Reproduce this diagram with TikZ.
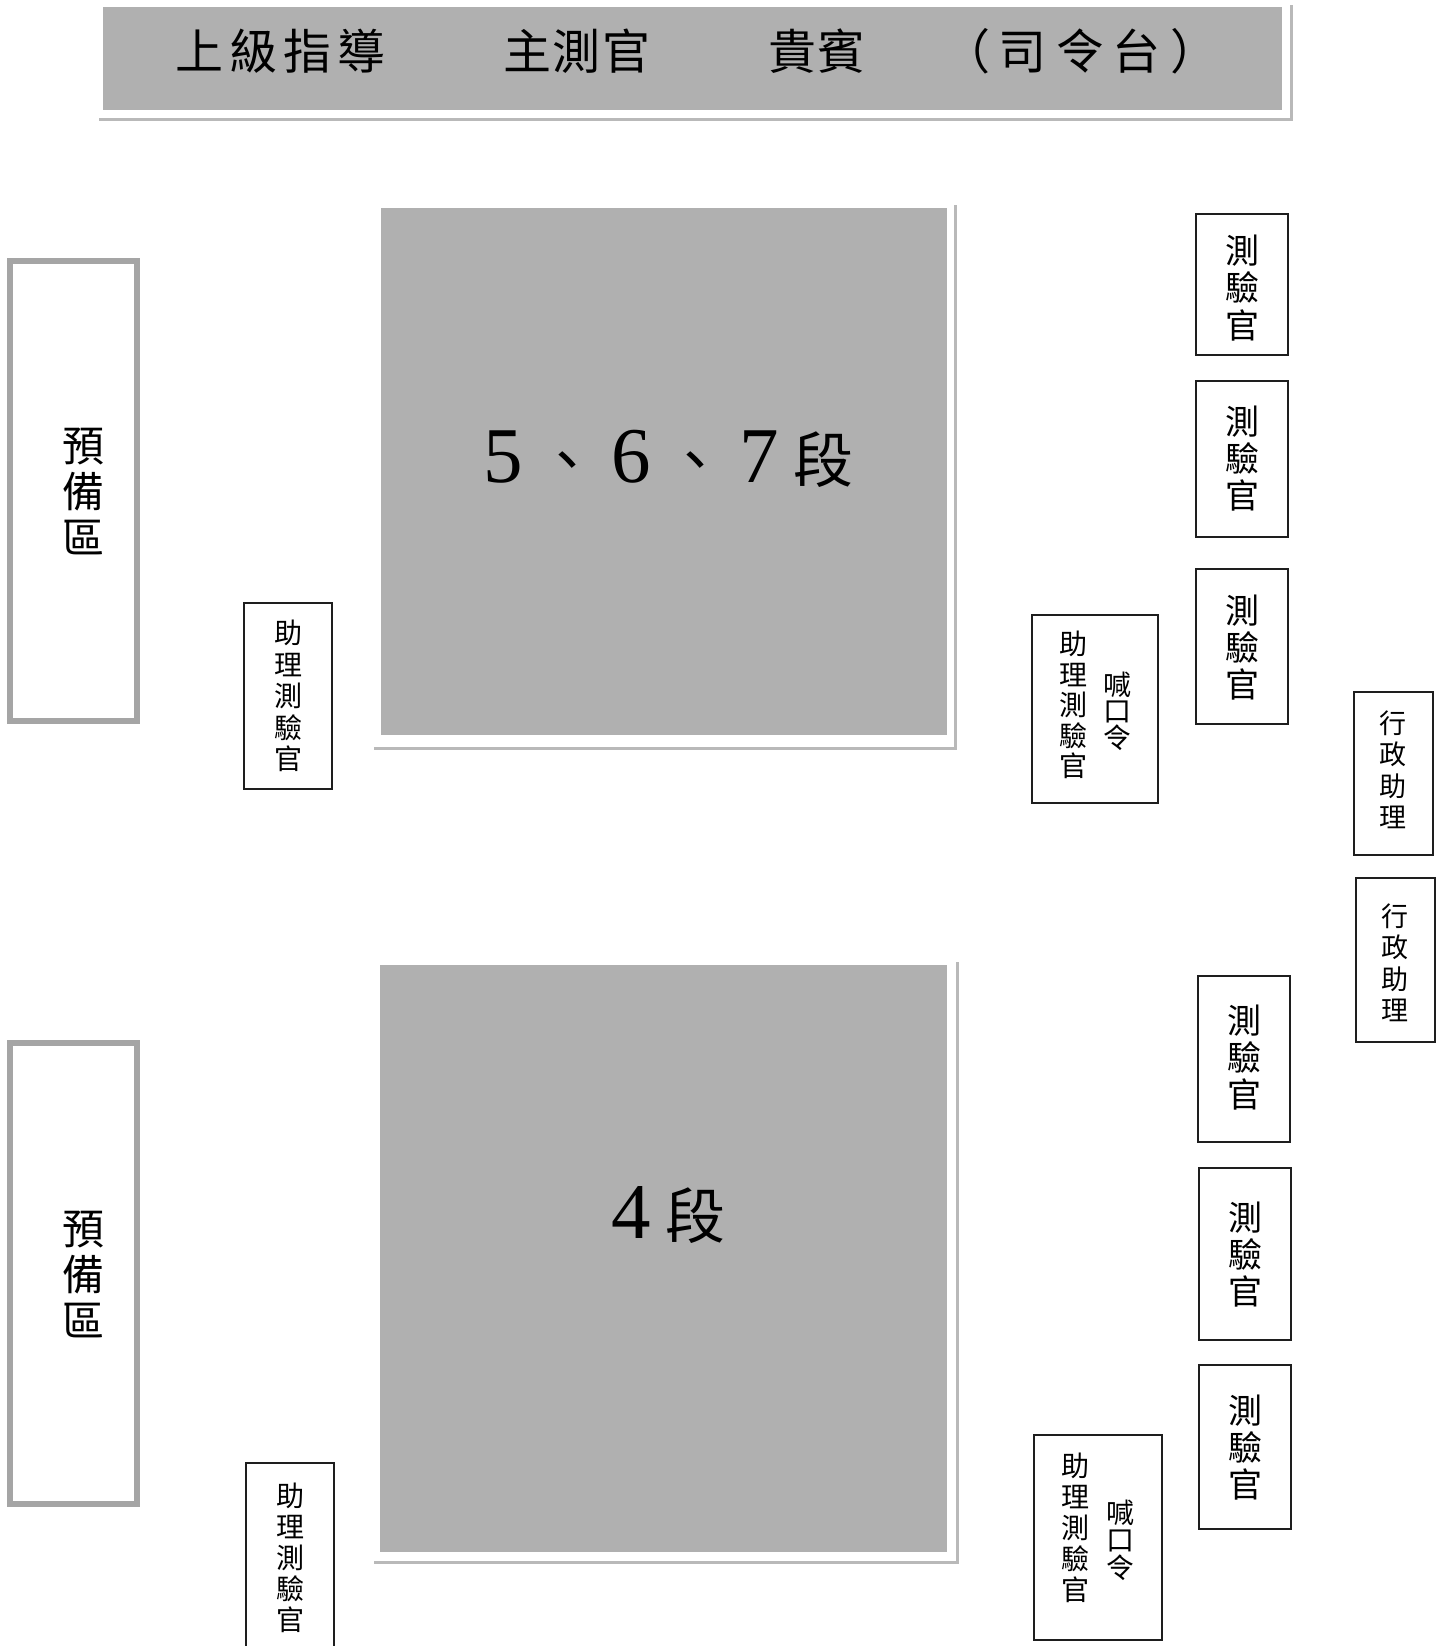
\documentclass[tikz,border=0pt]{standalone}
\usepackage{fontspec}
\newfontfamily\cjk{Noto Sans CJK TC}
\newfontfamily\digf{Liberation Serif}
\definecolor{fieldgray}{RGB}{176,176,176}
\definecolor{framegray}{RGB}{185,185,185}
\definecolor{resgray}{RGB}{165,165,165}
\definecolor{boxline}{RGB}{30,30,30}
\newcommand\secdig[1]{\makebox[64pt]{\digf\fontsize{79}{79}\selectfont #1}}
\newcommand\seckan[1]{\makebox[64pt]{\cjk\fontsize{60}{60}\selectfont #1}}
% name, x1, y1, x2, y2, style
\newcommand\rectnode[6]{\node[#6, minimum width={#4-#2}, minimum height={#5-#3}] (#1) at ({(#2+#4)/2},{(#3+#5)/2}) {};}
\begin{document}
\begin{tikzpicture}[x=1pt,y=-1pt,
  field/.style={fill=fieldgray, draw=none, inner sep=0pt, outer sep=0pt},
  frameline/.style={draw=framegray, line width=3pt},
  resbox/.style={draw=resgray, line width=6pt, inner sep=0pt, fill=white},
  tbox/.style={draw=boxline, line width=1.6pt, inner sep=0pt, fill=white},
  kfont/.style 2 args={font={\cjk\fontsize{#1}{#2}\selectfont}, align=center, inner sep=0pt},
]
\fill[white] (0,0) rectangle (1443,1646);
\useasboundingbox (0,0) rectangle (1443,1646);

% banner
\rectnode{banner}{103}{7}{1282}{110}{field}
\draw[frameline] (99,119) -- (1291,119) -- (1291,5);
\node[kfont={48}{48}, anchor=base] (b1) at (280,70) {上\hspace{6pt}級\hspace{6pt}指\hspace{6pt}導};
\node[kfont={48}{48}, anchor=base] (b2) at (577,70) {主\hspace{2pt}測\hspace{2pt}官};
\node[kfont={48}{48}, anchor=base] (b3) at (817,70) {貴\hspace{2pt}賓};
\node[kfont={48}{48}, anchor=base] (b4) at (1080,70) {（\hspace{9pt}司\hspace{9pt}令\hspace{9pt}台\hspace{9pt}）};

% fields
\rectnode{fieldA}{381}{208}{947}{735}{field}
\draw[frameline] (374,748) -- (955,748) -- (955,205);
\node[inner sep=0pt, anchor=base] (secA) at (663,482) {\secdig{5}\seckan{、}\secdig{6}\seckan{、}\secdig{7}\seckan{段}};

\rectnode{fieldB}{380}{965}{947}{1552}{field}
\draw[frameline] (374,1562) -- (957,1562) -- (957,962);
\node[inner sep=0pt, anchor=base] (secB) at (663.5,1238) {\secdig{4}\seckan{段}};

% reserve areas
\rectnode{resA}{10}{261}{137}{721}{resbox}
\node[kfont={42}{46}] (resAt) at (83,491) {預\\備\\區};
\rectnode{resB}{10}{1043}{137}{1504}{resbox}
\node[kfont={42}{46}] (resBt) at (83,1274) {預\\備\\區};

% assistant examiners left
\rectnode{asA}{244}{603}{332}{789}{tbox}
\node[kfont={28}{31.5}] (asAt) at (288,696) {助\\理\\測\\驗\\官};
\rectnode{asB}{246}{1463}{334}{1670}{tbox}
\node[kfont={28}{31}] (asBt) at (290,1558) {助\\理\\測\\驗\\官};

% assistant examiner + command, right
\rectnode{cmA}{1032}{615}{1158}{803}{tbox}
\node[kfont={28}{30.5}] (cmA1) at (1073,705) {助\\理\\測\\驗\\官};
\node[kfont={28}{26.5}] (cmA2) at (1117,711) {喊\\口\\令};
\rectnode{cmB}{1034}{1435}{1162}{1640}{tbox}
\node[kfont={28}{31}] (cmB1) at (1075,1528) {助\\理\\測\\驗\\官};
\node[kfont={28}{27.5}] (cmB2) at (1120,1540) {喊\\口\\令};

% examiners
\rectnode{ex1}{1196}{214}{1288}{355}{tbox}
\node[kfont={34}{37.5}] (ex1t) at (1242,288) {測\\驗\\官};
\rectnode{ex2}{1196}{381}{1288}{537}{tbox}
\node[kfont={34}{37}] (ex2t) at (1242,459) {測\\驗\\官};
\rectnode{ex3}{1196}{569}{1288}{724}{tbox}
\node[kfont={34}{37}] (ex3t) at (1242,648) {測\\驗\\官};
\rectnode{ex4}{1198}{976}{1290}{1142}{tbox}
\node[kfont={34}{37}] (ex4t) at (1244,1058) {測\\驗\\官};
\rectnode{ex5}{1199}{1168}{1291}{1340}{tbox}
\node[kfont={34}{37}] (ex5t) at (1245,1255) {測\\驗\\官};
\rectnode{ex6}{1199}{1365}{1291}{1529}{tbox}
\node[kfont={34}{37}] (ex6t) at (1245,1448) {測\\驗\\官};

% administrative assistants
\rectnode{ad1}{1354}{692}{1433}{855}{tbox}
\node[kfont={27}{31.5}] (ad1t) at (1393,770) {行\\政\\助\\理};
\rectnode{ad2}{1356}{878}{1435}{1042}{tbox}
\node[kfont={27}{31.5}] (ad2t) at (1395,963) {行\\政\\助\\理};
\end{tikzpicture}
\end{document}
